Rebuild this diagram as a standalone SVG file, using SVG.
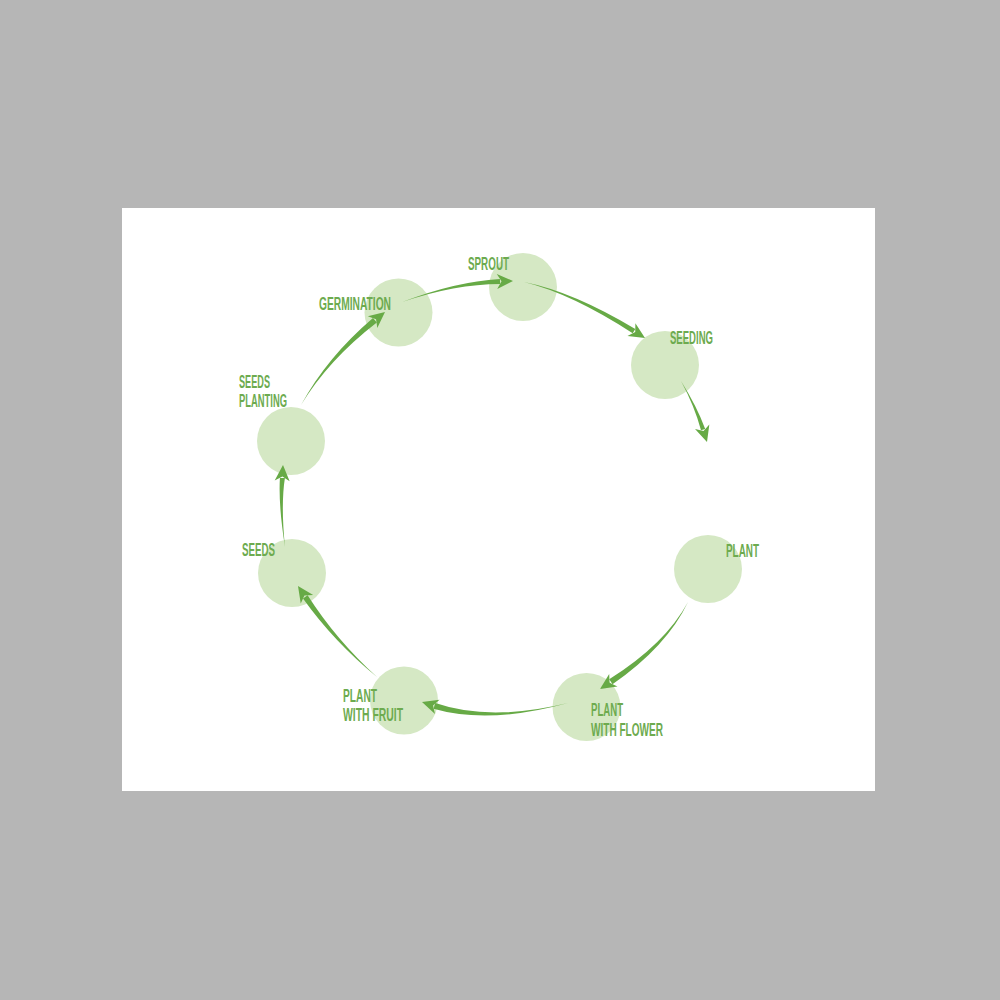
<svg xmlns="http://www.w3.org/2000/svg" xmlns:xlink="http://www.w3.org/1999/xlink" width="1000" height="1000" viewBox="0 0 1000 1000">
<style>
.node{fill:#d5e8c4}
.lbl{font-family:"Liberation Sans","DejaVu Sans",Arial,sans-serif;font-size:17.5px;font-weight:bold;fill:#6dab4f}
.body{fill:#67aa46}
</style>
<defs>
<path id="head" d="M0,0 L-16,-7.5 L-11.5,0 L-16,7.5 Z" fill="#67aa46"/>
</defs>
<rect width="1000" height="1000" fill="#b6b6b6"/>
<rect x="122" y="208" width="753" height="583" fill="#ffffff"/>

<g id="n-seeds-planting"><circle class="node" cx="291" cy="441" r="34"/><text class="lbl" x="239" y="388" textLength="31" lengthAdjust="spacingAndGlyphs">SEEDS</text><text class="lbl" x="239" y="407" textLength="48" lengthAdjust="spacingAndGlyphs">PLANTING</text></g>
<g id="n-germination"><circle class="node" cx="398.5" cy="312.5" r="34"/><text class="lbl" x="319" y="310" textLength="72" lengthAdjust="spacingAndGlyphs">GERMINATION</text></g>
<g id="n-sprout"><circle class="node" cx="523" cy="287" r="34"/><text class="lbl" x="468" y="270" textLength="41" lengthAdjust="spacingAndGlyphs">SPROUT</text></g>
<g id="n-seeding"><circle class="node" cx="665" cy="365" r="34"/><text class="lbl" x="670" y="344" textLength="43" lengthAdjust="spacingAndGlyphs">SEEDING</text></g>
<g id="n-plant"><circle class="node" cx="708" cy="569" r="34"/><text class="lbl" x="726" y="557" textLength="33" lengthAdjust="spacingAndGlyphs">PLANT</text></g>
<g id="n-plant-flower"><circle class="node" cx="586.5" cy="707" r="34"/><text class="lbl" x="591" y="716" textLength="32" lengthAdjust="spacingAndGlyphs">PLANT</text><text class="lbl" x="591" y="736" textLength="72" lengthAdjust="spacingAndGlyphs">WITH FLOWER</text></g>
<g id="n-plant-fruit"><circle class="node" cx="404" cy="700.5" r="34"/><text class="lbl" x="343" y="702" textLength="34" lengthAdjust="spacingAndGlyphs">PLANT</text><text class="lbl" x="343" y="721" textLength="60" lengthAdjust="spacingAndGlyphs">WITH FRUIT</text></g>
<g id="n-seeds"><circle class="node" cx="292" cy="573" r="34"/><text class="lbl" x="242" y="556" textLength="33" lengthAdjust="spacingAndGlyphs">SEEDS</text></g>

<g id="connectors">
<path class="body" d="M301,405 Q328.6,359.7 376.8,322.5 L373.0,317.9 Q326.8,357.3 301,405 Z"/>
<use xlink:href="#head" href="#head" transform="translate(385,312) rotate(-39)"/>
<path class="body" d="M402,302 Q455.3,283.9 500.1,283.9 L499.9,278.9 Q455.3,281.5 402,302 Z"/>
<use xlink:href="#head" href="#head" transform="translate(513,281) rotate(-1.7)"/>
<path class="body" d="M524,282 Q571.6,293.6 632.7,333.2 L635.3,329.0 Q572.8,291.6 524,282 Z"/>
<use xlink:href="#head" href="#head" transform="translate(645,338) rotate(31.9)"/>
<path class="body" d="M681,381 Q694.85,406.8 701.0,430.3 L705.2,428.9 Q696.75,406.2 681,381 Z"/>
<use xlink:href="#head" href="#head" transform="translate(707,442) rotate(72.5)"/>
<path class="body" d="M688,602 Q665.4,643.9 609.2,679.3 L612.5,684.3 Q667.0,646.3 688,602 Z"/>
<use xlink:href="#head" href="#head" transform="translate(600,689) rotate(146.5)"/>
<path class="body" d="M568,703 Q489.85,721.9 435.3,703.05 L433.5,708.75 Q488.95,724.7 568,703 Z"/>
<use xlink:href="#head" href="#head" transform="translate(422,702) rotate(197.5)"/>
<path class="body" d="M377,677 Q335.9,639.6 307.6,595.2 L303.0,598.4 Q333.5,641.2 377,677 Z"/>
<use xlink:href="#head" href="#head" transform="translate(298,586) rotate(-124)"/>
<path class="body" d="M285,547 Q280.7,505.1 284.9,478.1 L279.9,477.9 Q278.3,504.9 285,547 Z"/>
<use xlink:href="#head" href="#head" transform="translate(283,465) rotate(-87)"/>
</g>
</svg>
